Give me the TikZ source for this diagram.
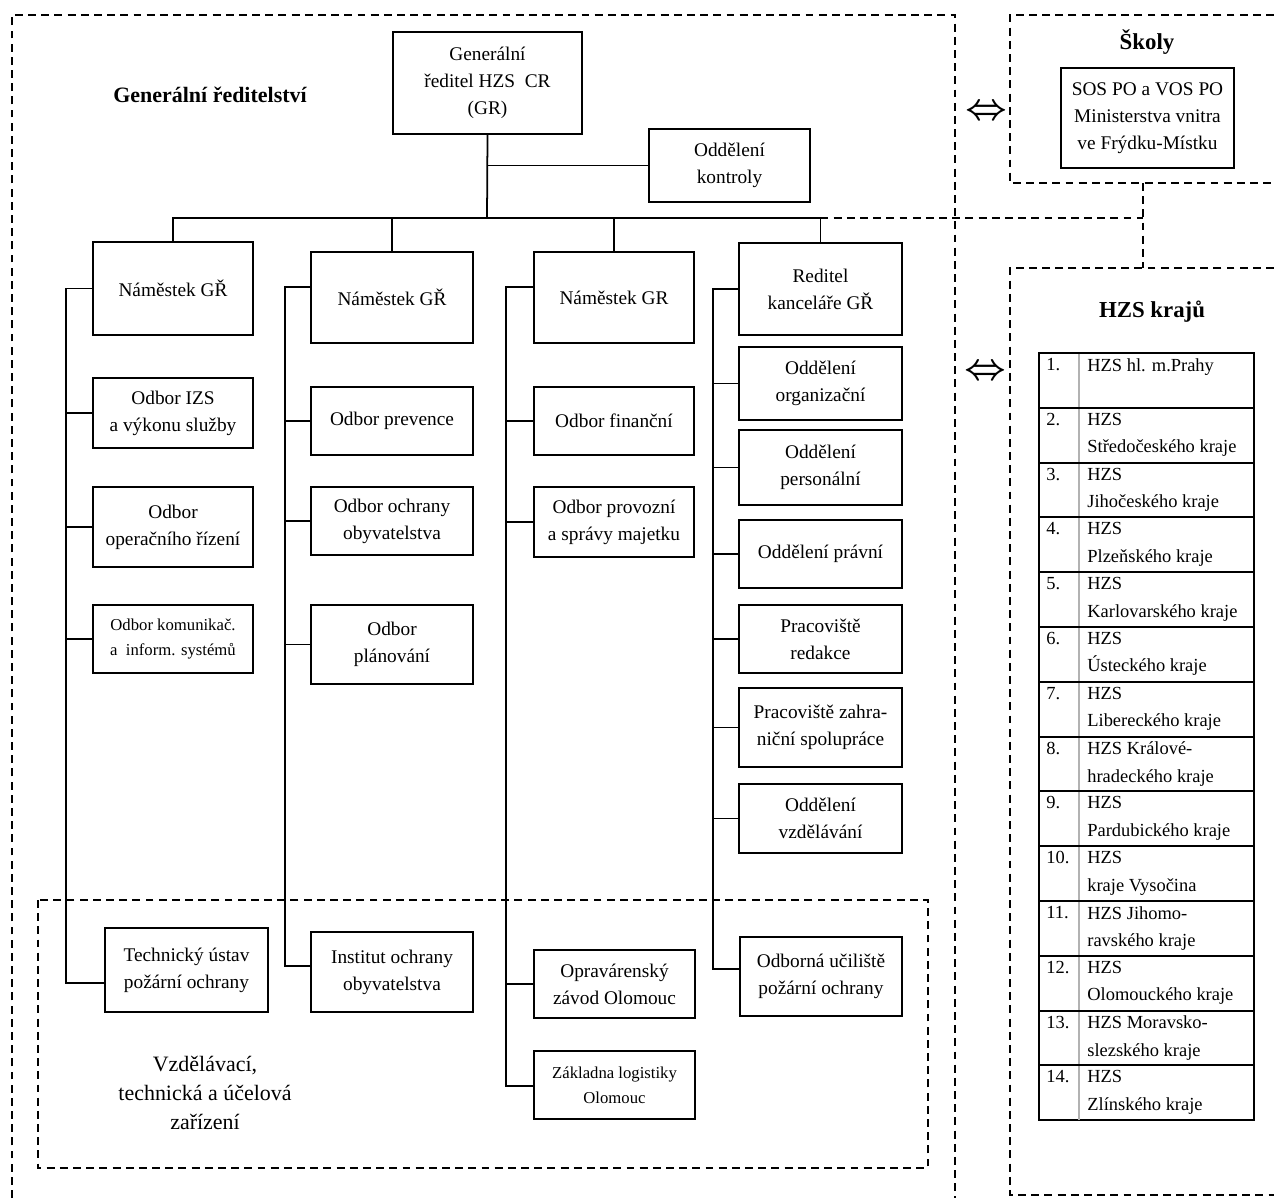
\documentclass[tikz,border=0pt]{standalone}
\usepackage{fontspec}
\setmainfont{Liberation Serif}

\begin{document}
\begin{tikzpicture}[x=0.02cm,y=-0.02cm,
  unit/.style={draw,line width=1pt,align=center,inner sep=1pt,font=\fontsize{11}{15.5}\selectfont},
  boxsize/.style 2 args={minimum width=#1*0.02cm,minimum height=#2*0.02cm},
  small unit/.style={unit,font=\fontsize{9.5}{14}\selectfont},
  link/.style={line width=1pt},
  group/.style={line width=0.8pt,dash pattern=on 4.5pt off 3pt},
  title/.style={font=\fontsize{13}{15}\selectfont\bfseries},
  cell/.style={anchor=north west,align=left,inner sep=0pt,font=\fontsize{10.5}{15.5}\selectfont}]

  \useasboundingbox (0,0) rectangle (1274,1198);

  \draw[group] (12,1198) -- (12,15) -- (955,15) -- (955,1198);
  \draw[group] (38,900) rectangle (928,1168);
  \draw[group] (1274,15) -- (1010,15) -- (1010,183) -- (1274,183);
  \draw[group] (1274,268) -- (1010,268) -- (1010,1195) -- (1274,1195);

  \node[title,font=\fontsize{12.5}{15}\selectfont\bfseries] (gdtitle) at (210,95) {Generální ředitelství};
  \node[title] (skolytitle) at (1147,42) {Školy};
  \node[title] (krajetitle) at (1152,312) {HZS krajů};
  \node[align=center,font=\fontsize{12.5}{16.5}\selectfont] (zarizeni) at (205,1093) {Vzdělávací,\\technická a účelová\\zařízení};

  \node[unit,boxsize={189}{102}] (gr) at (487.5,83) {Generální\\ředitel HZS\ \ CR\\(GR)};
  \node[unit,boxsize={161}{73}] (kontrola) at (729.5,165.5) {Oddělení\\kontroly};
  \node[unit,boxsize={160}{93}] (nam1) at (173,288.5) {Náměstek GŘ};
  \node[unit,boxsize={162}{91}] (nam2) at (392,297.5) {Náměstek GŘ};
  \node[unit,boxsize={160}{91}] (nam3) at (614,297.5) {Náměstek GR};
  \node[unit,boxsize={163}{92}] (reditel) at (820.5,289) {Reditel\\kanceláře GŘ};

  \node[unit,boxsize={160}{70}] (izs) at (173,413) {Odbor IZS\\a výkonu služby};
  \node[unit,boxsize={160}{80}] (operacni) at (173,527) {Odbor\\operačního řízení};
  \node[small unit,boxsize={160}{68}] (komunikace) at (173,639) {Odbor komunikač.\\a\ \ inform. systémů};
  \node[unit,boxsize={163}{84}] (tupo) at (186.5,970) {Technický ústav\\požární ochrany};

  \node[unit,boxsize={162}{68}] (prevence) at (392,421) {Odbor prevence};
  \node[unit,boxsize={162}{68}] (ochrana) at (392,521) {Odbor ochrany\\obyvatelstva};
  \node[unit,boxsize={162}{79}] (planovani) at (392,644.5) {Odbor\\plánování};
  \node[unit,boxsize={162}{80}] (institut) at (392,972) {Institut ochrany\\obyvatelstva};

  \node[unit,boxsize={160}{68}] (financni) at (614,421) {Odbor finanční};
  \node[unit,boxsize={160}{70}] (provozni) at (614,522) {Odbor provozní\\a správy majetku};
  \node[unit,boxsize={161}{68}] (opravarna) at (614.5,984) {Opravárenský\\závod Olomouc};
  \node[small unit,boxsize={161}{68}] (zakladna) at (614.5,1085) {Základna logistiky\\Olomouc};

  \node[unit,boxsize={163}{73}] (organizacni) at (820.5,383.5) {Oddělení\\organizační};
  \node[unit,boxsize={163}{75}] (personalni) at (820.5,467.5) {Oddělení\\personální};
  \node[unit,boxsize={163}{68}] (pravni) at (820.5,554) {Oddělení právní};
  \node[unit,boxsize={163}{68}] (redakce) at (820.5,639) {Pracoviště\\redakce};
  \node[unit,boxsize={163}{79}] (zahranici) at (820.5,727.5) {Pracoviště zahra-\\niční spolupráce};
  \node[unit,boxsize={163}{69}] (vzdelavani) at (820.5,818.5) {Oddělení\\vzdělávání};
  \node[unit,boxsize={162}{79}] (uciliste) at (821,976.5) {Odborná učiliště\\požární ochrany};

  \node[unit,boxsize={173}{100}] (skola) at (1147.5,118) {SOS PO a VOS PO\\Ministerstva vnitra\\ve Frýdku-Místku};

  \node[font=\fontsize{20}{20}\selectfont\boldmath] (pair1) at (986,112) {$\Leftrightarrow$};
  \node[font=\fontsize{20}{20}\selectfont\boldmath] (pair2) at (985,372) {$\Leftrightarrow$};

  \coordinate (bus) at (487,218);
  \coordinate (s1) at (66,983);
  \coordinate (s2) at (285,966);
  \coordinate (s3) at (506,1086);
  \coordinate (s4) at (713,969);
  \coordinate (skolyfoot) at (1143,183);
  \coordinate (krajetop) at (1143,268);

  \draw[link] (gr.south) -- (bus);
  \draw[link] (gr.south |- kontrola.west) -- (kontrola.west);
  \draw[link] (nam1.north) -- (nam1.north |- bus) -- (reditel.north |- bus) -- (reditel.north);
  \foreach \n in {nam2,nam3}
    \draw[link] (\n.north) -- (\n.north |- bus);

  \draw[link] (nam1.west) -| (s1) -- (s1 -| tupo.west);
  \draw[link] ([yshift=0.21cm]nam2.west) -| (s2) -- (s2 -| institut.west);
  \draw[link] ([yshift=0.21cm]nam3.west) -| (s3) -- (s3 -| zakladna.west);
  \draw[link] (reditel.west) -| (s4) -- (s4 -| uciliste.west);

  \foreach \n in {izs,operacni,komunikace}
    \draw[link] (\n.west) -- (\n.west -| s1);
  \foreach \n in {prevence,ochrana,planovani}
    \draw[link] (\n.west) -- (\n.west -| s2);
  \foreach \n in {financni,provozni,opravarna}
    \draw[link] (\n.west) -- (\n.west -| s3);
  \foreach \n in {organizacni,personalni,pravni,redakce,zahranici,vzdelavani}
    \draw[link] (\n.west) -- (\n.west -| s4);

  \draw[group] (reditel.north |- bus) -- (bus -| skolyfoot);
  \draw[group] (skolyfoot) -- (krajetop);

  \draw[link] (1039,353) rectangle (1254,1120);
  \draw[gray!60,line width=0.8pt] (1079,353) -- (1079,1120);
  \foreach \n/\la/\lb [count=\k from 0] in {1/HZS hl. m.Prahy/{},2/HZS/Středočeského kraje,
      3/HZS/Jihočeského kraje,4/HZS/Plzeňského kraje,5/HZS/Karlovarského kraje,
      6/HZS/Ústeckého kraje,7/HZS/Libereckého kraje,8/HZS Králové-/hradeckého kraje,
      9/HZS/Pardubického kraje,10/HZS/kraje Vysočina,11/HZS Jihomo-/ravského kraje,
      12/HZS/Olomouckého kraje,13/HZS Moravsko-/slezského kraje,14/HZS/Zlínského kraje} {
    \draw[link] (1039,{353+round(54.8*\k)}) -- (1254,{353+round(54.8*\k)});
    \node[cell] (no\n) at (1046,{358+54.8*\k}) {\n.};
    \node[cell] (kraj\n) at (1087,{358+54.8*\k}) {\la\\\lb};
  }
\end{tikzpicture}
\end{document}
